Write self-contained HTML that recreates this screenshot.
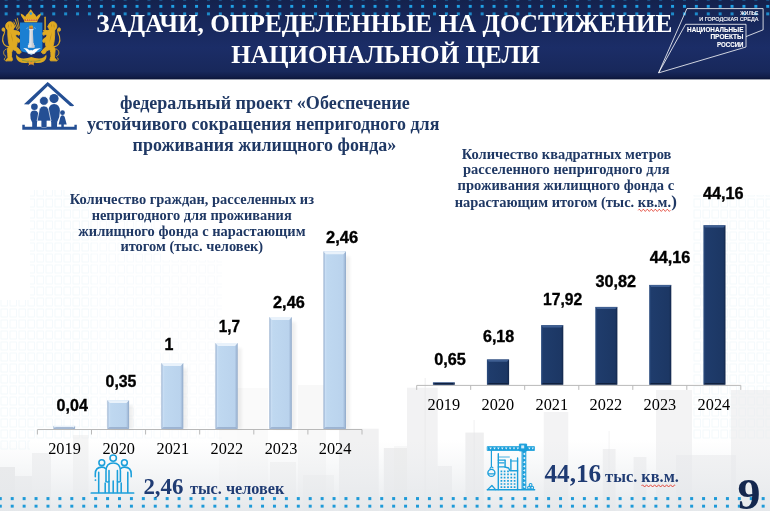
<!DOCTYPE html>
<html lang="ru">
<head>
<meta charset="utf-8">
<title>Задачи, определенные на достижение национальной цели</title>
<style>
html,body{margin:0;padding:0;background:#fff;}
body{width:770px;height:511px;overflow:hidden;position:relative;}
svg{position:absolute;left:0;top:0;display:block;}
.ser{font-family:"Liberation Serif",serif;}
.san{font-family:"Liberation Sans",sans-serif;}
.b{font-weight:bold;}
</style>
</head>
<body>
<svg width="770" height="511" viewBox="0 0 770 511">
<defs>
  <linearGradient id="hdr" x1="0" y1="0" x2="0" y2="1">
    <stop offset="0" stop-color="#14224d"/>
    <stop offset="0.25" stop-color="#17275a"/>
    <stop offset="0.6" stop-color="#1b2d67"/>
    <stop offset="0.9" stop-color="#18285b"/>
    <stop offset="0.965" stop-color="#121e4a"/>
    <stop offset="1" stop-color="#0b1436"/>
  </linearGradient>
  <pattern id="dots" x="4.65" y="-2.6" width="11.9" height="7.5" patternUnits="userSpaceOnUse">
    <rect x="0" y="0" width="3" height="3" fill="#1fa0e4"/>
  </pattern>
  <pattern id="dotsb" x="-1.2" y="497.1" width="11.92" height="7.6" patternUnits="userSpaceOnUse">
    <rect x="0" y="0" width="3" height="3" fill="#1e9ad8"/>
  </pattern>
  <linearGradient id="lb" x1="0" y1="0" x2="1" y2="0">
    <stop offset="0" stop-color="#9cb3d0"/>
    <stop offset="0.045" stop-color="#a9c1de"/>
    <stop offset="0.07" stop-color="#cbdff4"/>
    <stop offset="0.16" stop-color="#bfd8f0"/>
    <stop offset="0.86" stop-color="#bad3ed"/>
    <stop offset="0.93" stop-color="#a7bfdc"/>
    <stop offset="1" stop-color="#8fa8c8"/>
  </linearGradient>
  <linearGradient id="db" x1="0" y1="0" x2="1" y2="0">
    <stop offset="0" stop-color="#2c4d80"/>
    <stop offset="0.1" stop-color="#1f3c6c"/>
    <stop offset="0.9" stop-color="#1c3764"/>
    <stop offset="1" stop-color="#12264a"/>
  </linearGradient>
  <filter id="sh" x="-30%" y="-10%" width="180%" height="130%">
    <feGaussianBlur stdDeviation="1.6"/>
  </filter>
</defs>

<!-- ============ BACKGROUND (faint city) ============ -->
<defs>
  <linearGradient id="bgfade" x1="0" y1="0" x2="0" y2="1">
    <stop offset="0" stop-color="#e9ecef" stop-opacity="0"/>
    <stop offset="1" stop-color="#e4e7ea" stop-opacity="0.9"/>
  </linearGradient>
  <pattern id="win" width="9" height="11" patternUnits="userSpaceOnUse">
    <rect x="1" y="1" width="6.5" height="8" fill="none" stroke="#dcebf5" stroke-width="0.8"/>
  </pattern>
</defs>
<g id="bg">
  <!-- light blue outlined towers -->
  <rect x="30" y="190" width="62" height="250" fill="url(#win)" opacity="0.4"/>
  <rect x="92" y="215" width="70" height="225" fill="url(#win)" opacity="0.3"/>
  <rect x="162" y="260" width="60" height="180" fill="url(#win)" opacity="0.22"/>
  <rect x="0" y="300" width="30" height="150" fill="url(#win)" opacity="0.4"/>
  <rect x="692" y="195" width="78" height="245" fill="url(#win)" opacity="0.4"/>
  <!-- gray silhouettes -->
  <g fill="#e8e8e9">
    <rect x="0" y="467" width="15.0" height="44.0" opacity="0.9"/>
    <rect x="15" y="476" width="17.0" height="35.0" opacity="0.7"/>
    <rect x="32" y="453" width="19.0" height="58.0" opacity="0.55"/>
    <rect x="73" y="435" width="15.5" height="76.0" opacity="0.45"/>
    <rect x="219" y="380" width="18.0" height="131.0" opacity="0.18"/>
    <rect x="237" y="388" width="31.0" height="123.0" opacity="0.22"/>
    <rect x="298" y="385" width="28" height="126" opacity="0.3"/>
    <rect x="270" y="462" width="26.0" height="49.0" opacity="0.45"/>
    <rect x="303" y="475" width="31.0" height="36.0" opacity="0.4"/>
    <rect x="339" y="428.7" width="39.7" height="82.3" opacity="0.6"/>
    <rect x="383.8" y="448" width="23.2" height="63.0" opacity="0.7"/>
    <rect x="394" y="446" width="13.0" height="65.0" opacity="0.3"/>
    <rect x="407" y="387.7" width="30.7" height="123.3" opacity="0.55"/>
    <rect x="424.5" y="378" width="1.5" height="133.0" opacity="0.5"/>
    <rect x="437.7" y="466" width="14.3" height="45.0" opacity="0.6"/>
    <rect x="465.4" y="432.6" width="18.4" height="78.4" opacity="0.7"/>
    <rect x="473.5" y="420" width="1.2" height="91.0" opacity="0.5"/>
    <rect x="543.8" y="412" width="24.4" height="99.0" opacity="0.5"/>
    <rect x="602.8" y="449" width="12.8" height="62.0" opacity="0.6"/>
    <rect x="608.6" y="431" width="1.0" height="80.0" opacity="0.5"/>
    <rect x="633.6" y="457" width="12.8" height="54.0" opacity="0.6"/>
    <rect x="656" y="390" width="36.0" height="121.0" opacity="0.5"/>
    <rect x="731" y="390" width="39.0" height="121.0" opacity="0.5"/>
    <rect x="676" y="455" width="60.0" height="56.0" opacity="0.5"/>
  </g>
  <rect x="0" y="440" width="770" height="71" fill="url(#bgfade)"/>
</g>

<!-- ============ HEADER ============ -->
<rect x="0" y="0" width="770" height="79.4" fill="url(#hdr)"/>
<rect x="0" y="-3" width="770" height="11" fill="url(#dots)"/>
<rect x="0" y="11" width="770" height="5" fill="url(#dots)" opacity="0.82"/>
<text class="ser b" x="96.2" y="31.6" font-size="25.4" fill="#fff" textLength="576.2" lengthAdjust="spacingAndGlyphs">ЗАДАЧИ, ОПРЕДЕЛЕННЫЕ НА ДОСТИЖЕНИЕ</text>
<text class="ser b" x="231.3" y="62.7" font-size="25.4" fill="#fff" textLength="308.4" lengthAdjust="spacingAndGlyphs">НАЦИОНАЛЬНОЙ ЦЕЛИ</text>

<!-- ============ COAT OF ARMS ============ -->
<g id="emblem">
  <g stroke="#d9a521" fill="none" stroke-linecap="round">
    <path d="M18.6 29 L15.2 19.5 M19.4 28 L17.4 18.2 M17.6 30 L13.8 22" stroke-width="0.9"/>
    <path d="M45.1 17.2 V31" stroke-width="1.5"/>
    <path d="M43.3 30.6 H46.9" stroke-width="1"/>
  </g>
  <g transform="translate(0 5) scale(0.12525)">
    <g fill="#e0aa22" stroke="#e0aa22" stroke-width="7" stroke-linejoin="round">
    <ellipse cx="78" cy="168" rx="33" ry="35"/>
    <path d="M96 150 L118 168 L112 186 L96 192 Z"/>
    <path d="M62 190 L108 196 Q128 240 138 300 Q136 335 118 350 L82 345 Q60 300 62 190 Z"/>
    <path d="M98 204 Q128 200 152 214 L164 230 L150 242 L138 236 Q120 238 104 236 Z"/>
    <path d="M112 252 Q138 258 152 272 L163 290 L148 300 L138 292 Q124 288 110 282 Z"/>
    <path d="M104 322 Q136 334 152 352 L170 376 L156 390 L138 386 L128 366 Q110 360 94 350 Z"/>
    <path d="M72 332 L104 348 Q88 380 92 410 L100 436 L96 446 L48 446 L52 432 L64 424 Q62 390 58 350 Z"/>
    <path d="M70 332 C 36 334 12 296 24 252 C 30 228 46 218 36 196" fill="none" stroke="#e0aa22" stroke-width="9" stroke-linecap="round"/>
    <ellipse cx="27" cy="196" rx="11" ry="14"/>
    <path d="M48 352 C 22 362 22 398 46 410 M42 420 C 28 430 34 446 50 446" fill="none" stroke="#e0aa22" stroke-width="7" stroke-linecap="round"/>
</g>
    <g fill="#9a6f14" opacity="0.55">
    <path d="M84 215 Q100 250 104 300 Q92 270 84 215 Z M70 150 Q60 165 66 185 Q74 170 70 150 Z M86 145 Q96 160 92 180 Q84 165 86 145 Z" />
</g>
    <g transform="translate(499 0) scale(-1 1)">
      <g fill="#e0aa22" stroke="#e0aa22" stroke-width="7" stroke-linejoin="round">
    <ellipse cx="78" cy="168" rx="33" ry="35"/>
    <path d="M96 150 L118 168 L112 186 L96 192 Z"/>
    <path d="M62 190 L108 196 Q128 240 138 300 Q136 335 118 350 L82 345 Q60 300 62 190 Z"/>
    <path d="M98 204 Q128 200 152 214 L164 230 L150 242 L138 236 Q120 238 104 236 Z"/>
    <path d="M112 252 Q138 258 152 272 L163 290 L148 300 L138 292 Q124 288 110 282 Z"/>
    <path d="M104 322 Q136 334 152 352 L170 376 L156 390 L138 386 L128 366 Q110 360 94 350 Z"/>
    <path d="M72 332 L104 348 Q88 380 92 410 L100 436 L96 446 L48 446 L52 432 L64 424 Q62 390 58 350 Z"/>
    <path d="M70 332 C 36 334 12 296 24 252 C 30 228 46 218 36 196" fill="none" stroke="#e0aa22" stroke-width="9" stroke-linecap="round"/>
    <ellipse cx="27" cy="196" rx="11" ry="14"/>
    <path d="M48 352 C 22 362 22 398 46 410 M42 420 C 28 430 34 446 50 446" fill="none" stroke="#e0aa22" stroke-width="7" stroke-linecap="round"/>
</g>
      <g fill="#9a6f14" opacity="0.55">
    <path d="M84 215 Q100 250 104 300 Q92 270 84 215 Z M70 150 Q60 165 66 185 Q74 170 70 150 Z M86 145 Q96 160 92 180 Q84 165 86 145 Z" />
</g>
    </g>
  </g>
  <!-- wreath / ribbon -->
  <path d="M16.4 54.6 Q18.6 58.6 23.6 58.6 Q28 58.4 31.3 57 Q34.6 58.4 39 58.6 Q44 58.6 46.2 54.6 Q47.4 58.8 43.8 61.4 Q39.4 63.8 34.4 62.4 L33.2 64.6 H29.4 L28.2 62.4 Q23.2 63.8 18.8 61.4 Q15.2 58.8 16.4 54.6 Z" fill="#dba822"/>
  <path d="M22 60.2 Q31.3 62.6 40.6 60.2" stroke="#8e9c3c" stroke-width="1.1" fill="none"/>
  <path d="M28.6 60.6 L33.8 65 M34 60.6 L28.8 65" stroke="#e58a2c" stroke-width="1" fill="none" stroke-linecap="round"/>
  <!-- shield -->
  <path d="M20 22.4 H42.4 V47.8 Q42.4 51.4 38.6 52 Q33 52.6 31.2 55.2 Q29.4 52.6 23.8 52 Q20 51.4 20 47.8 Z" fill="#1b7fd2"/>
  <!-- column -->
  <path d="M28.7 28.8 H33.7 L33.3 30.2 H32.9 L33.3 43.2 H33.9 V45 H34.5 V47.7 H27.9 V45 H28.5 V43.2 H29.1 L29.5 30.2 H29.1 Z" fill="#dfe2e7"/>
  <path d="M31.6 30.2 L31.6 47.7 H34.5 V45 H33.9 V43.2 H33.3 L32.9 30.2 Z" fill="#b9bec8" opacity="0.6"/>
  <path d="M29.3 28.8 Q29 26.4 29.6 25.2 L30.4 26.4 L31.1 24.2 L31.8 26.4 L32.6 25.2 Q33.2 26.4 32.9 28.8 Z" fill="#e0aa22"/>
  <path d="M29.6 27.6 H32.6 V28.6 H29.6 Z" fill="#c9442a"/>
  <path d="M26.4 28.6 L28.4 27.4 M35.8 28.6 L33.8 27.4" stroke="#b8d8f2" stroke-width="0.5" fill="none"/>
  <!-- gull -->
  <path d="M23.2 48 Q27.4 48 29.8 50.4 Q31 49.4 32.4 50.4 Q35 48 40.8 48.2 Q37.6 49.6 36 52 Q34.2 54 31.4 53.8 Q28.4 54 27 52 Q25.8 49.6 23.2 48 Z" fill="#fff"/>
  <path d="M27.6 53 Q31.3 55.4 35 53" stroke="#fff" stroke-width="0.8" fill="none"/>
  <!-- crown -->
  <path d="M24.2 21.8 Q23.8 19.2 22.2 17.4 Q20.8 15.8 20.6 13.6 Q23.4 14.6 25.2 16.8 Q26 14.4 28 13.2 Q29.2 11.4 30.8 9.2 Q32.4 11.4 33.6 13.2 Q35.6 14.4 36.4 16.8 Q38.2 14.6 41 13.6 Q40.8 15.8 39.4 17.4 Q37.8 19.2 37.4 21.8 Z" fill="#e2ac24"/>
  <path d="M24.3 19.4 H37.3 L37.1 20.8 H24.5 Z" fill="#d2562a"/>
  <path d="M24.6 20.9 H37 L36.9 22.2 H24.7 Z" fill="#e9bb3a"/>
  <circle cx="30.8" cy="13.6" r="1.3" fill="#2d9be0"/>
  <path d="M26 19.9 h0.9 M28.3 19.9 h0.9 M30.4 19.9 h0.9 M32.5 19.9 h0.9 M34.7 19.9 h0.9" stroke="#fff" stroke-width="0.7" opacity="0.8"/>
</g>

<!-- ============ NATIONAL PROJECTS LOGO ============ -->
<g id="logo">
  <g fill="none" stroke="#fff" stroke-width="0.8" stroke-linejoin="miter">
    <path d="M658.6 72.9 L686.9 8.6 H763.1 V29.8 L746 36.6"/>
    <path d="M658.6 72.9 L685.6 24.3 H746 V47 Z"/>
  </g>
  <g class="san" fill="#fff" font-size="4.7" stroke="#fff" stroke-width="0.12">
    <text x="740.2" y="14.9" textLength="18.2" lengthAdjust="spacingAndGlyphs">ЖИЛЬЕ</text>
    <text x="699.3" y="20.8" textLength="59.1" lengthAdjust="spacingAndGlyphs">И ГОРОДСКАЯ СРЕДА</text>
  </g>
  <g class="san b" fill="#fff" font-size="8.1" stroke="#fff" stroke-width="0.15">
    <text x="687.1" y="32.1" textLength="56.4" lengthAdjust="spacingAndGlyphs">НАЦИОНАЛЬНЫЕ</text>
    <text x="710.4" y="39.3" textLength="33.1" lengthAdjust="spacingAndGlyphs">ПРОЕКТЫ</text>
    <text x="717" y="46.5" textLength="26.5" lengthAdjust="spacingAndGlyphs">РОССИИ</text>
  </g>
</g>

<!-- ============ SUBTITLE ============ -->
<g class="ser b" font-size="18" fill="#1f3864">
<text x="119.9" y="108.7" textLength="290" lengthAdjust="spacingAndGlyphs">федеральный проект «Обеспечение</text>
<text x="87" y="129.9" textLength="352.4" lengthAdjust="spacingAndGlyphs">устойчивого сокращения непригодного для</text>
<text x="132.6" y="151.1" textLength="263.6" lengthAdjust="spacingAndGlyphs">проживания жилищного фонда»</text>
</g>

<!-- ============ HOUSE ICON ============ -->
<g id="house" fill="#244f94">
  <!-- roof -->
  <path d="M47.6 82 L49.3 83.2 L74.2 105.6 L72.6 106.3 L70 106 L47.8 86 L28.8 104.4 L23.9 104.2 Z"/>
  <!-- base -->
  <path d="M22.3 124.8 H24.8 V126.8 H74.4 V124.8 H76.8 V129.8 H22.3 Z"/>
  <!-- boy -->
  <circle cx="34.4" cy="106.7" r="3.3"/>
  <path d="M30.3 114.5 Q30.6 110.6 34.3 110.6 Q38 110.6 38.3 114.5 Q38.4 119 37 122.6 L36.9 127 H32.2 L32.2 122.6 Q30 119 30.3 114.5 Z"/>
  <!-- man -->
  <circle cx="54" cy="98.6" r="4.6"/>
  <path d="M54.1 103.9 Q59.6 104 59.9 110.5 Q60 117 57.2 122 L57 127 H51.3 L51.2 122 Q48.4 117 48.6 110.5 Q48.8 104 54.1 103.9 Z"/>
  <!-- woman -->
  <circle cx="43.9" cy="100.9" r="4.4" stroke="#fff" stroke-width="0.7"/>
  <path d="M43.9 105.9 Q47.8 105.9 48.6 109.5 L51 121 H46.6 V127 H41.4 V121 H37.1 L39.3 109.5 Q40.1 105.9 43.9 105.9 Z" stroke="#fff" stroke-width="0.7"/>
  <rect x="41.5" y="120.6" width="5" height="6.4"/>
  <!-- girl -->
  <circle cx="62.5" cy="112.7" r="2.4"/>
  <path d="M62.5 115.2 Q64.3 115.2 64.8 117.2 L66.7 124.6 H63.8 V127 H61.3 V124.6 H58.6 L60.3 117.2 Q60.8 115.2 62.5 115.2 Z"/>
</g>

<!-- ============ CHARTS ============ -->
<g id="chartL">
<g class="ser b" font-size="14.4" fill="#1f3864">
<text x="69.8" y="204.3" textLength="244.2" lengthAdjust="spacingAndGlyphs">Количество граждан, расселенных из</text>
<text x="91.7" y="219.9" textLength="200.0" lengthAdjust="spacingAndGlyphs">непригодного для проживания</text>
<text x="78.3" y="235.7" textLength="227.2" lengthAdjust="spacingAndGlyphs">жилищного фонда с нарастающим</text>
<text x="120.4" y="251.4" textLength="142.8" lengthAdjust="spacingAndGlyphs">итогом (тыс. человек)</text>
</g>
<path d="M37.4 429.5H362.0" stroke="#b9b9b9" stroke-width="1" fill="none"/>
<path d="M37.4 429.5v5M91.5 429.5v5M145.6 429.5v5M199.7 429.5v5M253.8 429.5v5M307.9 429.5v5M362.0 429.5v5" stroke="#b9b9b9" stroke-width="1" fill="none"/>
<rect x="57.4" y="430.9" width="21.7" height="-2.1" fill="#000" opacity="0.06" filter="url(#sh)"/>
<rect x="53.4" y="425.9" width="21.7" height="2.9" fill="url(#lb)"/>
<polygon points="53.4,425.9 75.1,425.9 72.5,428.7 56.0,428.7" fill="#e9f2fb"/>
<polygon points="53.4,428.8 75.1,428.8 72.9,427.2 55.6,427.2" fill="#92a9c8"/>
<rect x="111.3" y="405.3" width="21.8" height="23.5" fill="#000" opacity="0.06" filter="url(#sh)"/>
<rect x="107.3" y="400.3" width="21.8" height="28.5" fill="url(#lb)"/>
<polygon points="107.3,400.3 129.1,400.3 126.5,403.1 109.9,403.1" fill="#e9f2fb"/>
<polygon points="107.3,428.8 129.1,428.8 126.9,427.2 109.5,427.2" fill="#92a9c8"/>
<rect x="165.3" y="368.1" width="22.0" height="60.7" fill="#000" opacity="0.06" filter="url(#sh)"/>
<rect x="161.3" y="363.1" width="22.0" height="65.7" fill="url(#lb)"/>
<polygon points="161.3,363.1 183.3,363.1 180.7,365.9 163.9,365.9" fill="#e9f2fb"/>
<polygon points="161.3,428.8 183.3,428.8 181.1,427.2 163.5,427.2" fill="#92a9c8"/>
<rect x="219.4" y="348.1" width="22.3" height="80.7" fill="#000" opacity="0.06" filter="url(#sh)"/>
<rect x="215.4" y="343.1" width="22.3" height="85.7" fill="url(#lb)"/>
<polygon points="215.4,343.1 237.7,343.1 235.1,345.9 218.0,345.9" fill="#e9f2fb"/>
<polygon points="215.4,428.8 237.7,428.8 235.5,427.2 217.6,427.2" fill="#92a9c8"/>
<rect x="273.3" y="322.1" width="22.5" height="106.7" fill="#000" opacity="0.06" filter="url(#sh)"/>
<rect x="269.3" y="317.1" width="22.5" height="111.7" fill="url(#lb)"/>
<polygon points="269.3,317.1 291.8,317.1 289.2,319.9 271.9,319.9" fill="#e9f2fb"/>
<polygon points="269.3,428.8 291.8,428.8 289.6,427.2 271.5,427.2" fill="#92a9c8"/>
<rect x="327.4" y="256.4" width="22.6" height="172.4" fill="#000" opacity="0.06" filter="url(#sh)"/>
<rect x="323.4" y="251.4" width="22.6" height="177.4" fill="url(#lb)"/>
<polygon points="323.4,251.4 346.0,251.4 343.4,254.2 326.0,254.2" fill="#e9f2fb"/>
<polygon points="323.4,428.8 346.0,428.8 343.8,427.2 325.6,427.2" fill="#92a9c8"/>
<g class="san b" font-size="16" fill="#000" stroke="#000" stroke-width="0.35">
<text x="56.6" y="410.7" textLength="31.2" lengthAdjust="spacingAndGlyphs">0,04</text>
<text x="105.6" y="387.1" textLength="30.8" lengthAdjust="spacingAndGlyphs">0,35</text>
<text x="168.9" y="349.8" text-anchor="middle">1</text>
<text x="218.8" y="331.7" textLength="21.2" lengthAdjust="spacingAndGlyphs">1,7</text>
<text x="273.1" y="307.9" textLength="31.6" lengthAdjust="spacingAndGlyphs">2,46</text>
<text x="326.1" y="243.0" textLength="32.0" lengthAdjust="spacingAndGlyphs">2,46</text>
</g>
<g class="ser" font-size="17.4" fill="#000">
<text x="48.2" y="454.0" text-anchor="start" textLength="32.6" lengthAdjust="spacingAndGlyphs">2019</text>
<text x="102.4" y="454.0" text-anchor="start" textLength="32.6" lengthAdjust="spacingAndGlyphs">2020</text>
<text x="156.5" y="454.0" text-anchor="start" textLength="32.6" lengthAdjust="spacingAndGlyphs">2021</text>
<text x="210.6" y="454.0" text-anchor="start" textLength="32.6" lengthAdjust="spacingAndGlyphs">2022</text>
<text x="264.7" y="454.0" text-anchor="start" textLength="32.6" lengthAdjust="spacingAndGlyphs">2023</text>
<text x="318.8" y="454.0" text-anchor="start" textLength="32.6" lengthAdjust="spacingAndGlyphs">2024</text>
</g>
</g>
<g id="chartR">
<g class="ser b" font-size="14.4" fill="#1f3864">
<text x="461.7" y="159.3" textLength="209.7" lengthAdjust="spacingAndGlyphs">Количество квадратных метров</text>
<text x="463.0" y="174.0" textLength="206.5" lengthAdjust="spacingAndGlyphs">расселенного непригодного для</text>
<text x="457.5" y="190.2" textLength="216.7" lengthAdjust="spacingAndGlyphs">проживания жилищного фонда с</text>
<text x="454.7" y="206.9" textLength="216.4" lengthAdjust="spacingAndGlyphs">нарастающим итогом (тыс. кв.м.</text>
<text x="671.3" y="207.3" font-size="17">)</text>
</g>
<path d="M638.3 210.3 q1 -2.2 2 0 t2 0 q1 -2.2 2 0 t2 0 q1 -2.2 2 0 t2 0 q1 -2.2 2 0 t2 0 q1 -2.2 2 0 t2 0 q1 -2.2 2 0 t2 0 q1 -2.2 2 0 t2 0 q1 -2.2 2 0 t2 0" stroke="#e0392b" stroke-width="0.9" fill="none"/>
<path d="M416.7 385.4H740.8" stroke="#b9b9b9" stroke-width="1" fill="none"/>
<path d="M416.7 385.4v4.5M470.7 385.4v4.5M524.7 385.4v4.5M578.8 385.4v4.5M632.8 385.4v4.5M686.8 385.4v4.5M740.8 385.4v4.5" stroke="#b9b9b9" stroke-width="1" fill="none"/>
<rect x="432.9" y="382.5" width="21.9" height="2.1" fill="url(#db)"/>
<polygon points="432.9,382.5 454.8,382.5 452.8,384.7 434.9,384.7" fill="#3f5f92"/>
<polygon points="432.9,384.6 454.8,384.6 452.8,383.1 434.9,383.1" fill="#10213f"/>
<rect x="486.9" y="359.5" width="22.2" height="25.1" fill="url(#db)"/>
<polygon points="486.9,359.5 509.1,359.5 507.1,361.7 488.9,361.7" fill="#3f5f92"/>
<polygon points="486.9,384.6 509.1,384.6 507.1,383.1 488.9,383.1" fill="#10213f"/>
<rect x="541.1" y="325.2" width="22.2" height="59.4" fill="url(#db)"/>
<polygon points="541.1,325.2 563.3,325.2 561.3,327.4 543.1,327.4" fill="#3f5f92"/>
<polygon points="541.1,384.6 563.3,384.6 561.3,383.1 543.1,383.1" fill="#10213f"/>
<rect x="595.3" y="306.9" width="22.1" height="77.7" fill="url(#db)"/>
<polygon points="595.3,306.9 617.4,306.9 615.4,309.1 597.3,309.1" fill="#3f5f92"/>
<polygon points="595.3,384.6 617.4,384.6 615.4,383.1 597.3,383.1" fill="#10213f"/>
<rect x="649.2" y="284.9" width="22.1" height="99.7" fill="url(#db)"/>
<polygon points="649.2,284.9 671.3,284.9 669.3,287.1 651.2,287.1" fill="#3f5f92"/>
<polygon points="649.2,384.6 671.3,384.6 669.3,383.1 651.2,383.1" fill="#10213f"/>
<rect x="703.4" y="225.3" width="22.1" height="159.3" fill="url(#db)"/>
<polygon points="703.4,225.3 725.5,225.3 723.5,227.5 705.4,227.5" fill="#3f5f92"/>
<polygon points="703.4,384.6 725.5,384.6 723.5,383.1 705.4,383.1" fill="#10213f"/>
<g class="san b" font-size="16" fill="#000" stroke="#000" stroke-width="0.35">
<text x="434.2" y="365.1" textLength="31.6" lengthAdjust="spacingAndGlyphs">0,65</text>
<text x="483.0" y="341.5" textLength="31.2" lengthAdjust="spacingAndGlyphs">6,18</text>
<text x="543.0" y="304.8" textLength="39.2" lengthAdjust="spacingAndGlyphs">17,92</text>
<text x="595.4" y="286.6" textLength="40.6" lengthAdjust="spacingAndGlyphs">30,82</text>
<text x="649.7" y="262.6" textLength="40.6" lengthAdjust="spacingAndGlyphs">44,16</text>
<text x="703.0" y="198.6" textLength="40.6" lengthAdjust="spacingAndGlyphs">44,16</text>
</g>
<g class="ser" font-size="17.4" fill="#000">
<text x="427.5" y="409.5" textLength="32.6" lengthAdjust="spacingAndGlyphs">2019</text>
<text x="481.5" y="409.5" textLength="32.6" lengthAdjust="spacingAndGlyphs">2020</text>
<text x="535.5" y="409.5" textLength="32.6" lengthAdjust="spacingAndGlyphs">2021</text>
<text x="589.6" y="409.5" textLength="32.6" lengthAdjust="spacingAndGlyphs">2022</text>
<text x="643.6" y="409.5" textLength="32.6" lengthAdjust="spacingAndGlyphs">2023</text>
<text x="697.6" y="409.5" textLength="32.6" lengthAdjust="spacingAndGlyphs">2024</text>
</g>
</g>

<!-- ============ BOTTOM ============ -->
<rect x="0" y="497" width="770" height="11" fill="url(#dotsb)"/>
<g class="ser b" fill="#1f3b73">
<text x="143.4" y="493.7" font-size="23" textLength="40" lengthAdjust="spacingAndGlyphs">2,46</text>
<text x="190" y="493.7" font-size="16" textLength="94.3" lengthAdjust="spacingAndGlyphs">тыс. человек</text>
<text x="544.5" y="482.3" font-size="24.5" textLength="56.7" lengthAdjust="spacingAndGlyphs">44,16</text>
<text x="605.1" y="482.3" font-size="16" textLength="73.8" lengthAdjust="spacingAndGlyphs">тыс. кв.м.</text>
</g>
<text class="ser b" x="737.4" y="508.9" font-size="44" fill="#14274e" textLength="23" lengthAdjust="spacingAndGlyphs">9</text>
<path d="M641.6 485.9 q1 -2.2 2 0 t2 0 q1 -2.2 2 0 t2 0 q1 -2.2 2 0 t2 0 q1 -2.2 2 0 t2 0 q1 -2.2 2 0 t2 0 q1 -2.2 2 0 t2 0 q1 -2.2 2 0 t2 0 q1 -2.2 2 0 t2 0 q0.8 -1.6 1.6 -0.6" stroke="#e0392b" stroke-width="0.9" fill="none"/>
<!-- people icon -->
<g id="people" fill="none" stroke="#1b9fdb" stroke-width="1.55" stroke-linecap="round" stroke-linejoin="round">
  <path d="M91.3 493 H133.6" stroke-width="1.7"/>
  <circle cx="113.2" cy="458.1" r="3.2"/>
  <circle cx="101.8" cy="462.7" r="2.9"/>
  <circle cx="124.4" cy="462.7" r="2.9"/>
  <path d="M106 481.3 V471 Q106 463 113.2 463 Q120.4 463 120.4 471 V481.3"/>
  <path d="M106 481.3 Q107.5 482.8 109 481.3 M117.4 481.3 Q118.9 482.8 120.4 481.3" stroke-width="1.3"/>
  <path d="M109 470.4 V492.5 M117.4 470.4 V492.5 M113.2 481 V492.5"/>
  <path d="M95.3 476.8 V474 Q95.3 467.1 101.8 467.1 Q104.4 467.1 105.8 468.8"/>
  <path d="M98.7 472.2 V492.5 M105.2 483 V492.5"/>
  <circle cx="95.3" cy="480.1" r="0.5" fill="#1b9fdb" stroke-width="0.7"/>
  <path d="M131.2 476.8 V474 Q131.2 467.1 124.6 467.1 Q122 467.1 120.6 468.8"/>
  <path d="M127.8 472.2 V492.5 M121.2 483 V492.5"/>
</g>
<!-- crane icon -->
<g id="crane" fill="none" stroke="#1b9fdb" stroke-width="1.4" stroke-linecap="round" stroke-linejoin="round">
<path d="M487.3 489.8 H534.6" stroke-width="1.5"/>
<rect x="487.6" y="446.6" width="46.8" height="3.9" fill="#1b9fdb" stroke-width="0.8"/>
<path d="M489.3 447.6h2.6l-1.3 2zM493.2 447.6h2.6l-1.3 2zM497.1 447.6h2.6l-1.3 2zM501.0 447.6h2.6l-1.3 2zM504.9 447.6h2.6l-1.3 2zM508.8 447.6h2.6l-1.3 2zM512.7 447.6h2.6l-1.3 2zM516.6 447.6h2.6l-1.3 2zM528.2 447.6h2.3l-1.15 2zM531.6 447.6h2.3l-1.15 2z" fill="#e9f5fc" stroke="none"/>
<rect x="519.8" y="444.1" width="6.8" height="6.8" fill="#1b9fdb" stroke-width="1"/>
<rect x="521.2" y="445.4" width="3" height="3" fill="#d3ebf8" stroke="none"/>
<rect x="522.3" y="451" width="3.6" height="38.5" fill="#1b9fdb" stroke-width="0.8"/>
<path d="M525.2 452.6v2.8l-2.3 -1.4zM525.2 456.7v2.8l-2.3 -1.4zM525.2 460.8v2.8l-2.3 -1.4zM525.2 464.9v2.8l-2.3 -1.4zM525.2 469.0v2.8l-2.3 -1.4zM525.2 473.1v2.8l-2.3 -1.4zM525.2 477.2v2.8l-2.3 -1.4zM525.2 481.3v2.8l-2.3 -1.4zM525.2 485.4v2.8l-2.3 -1.4z" fill="#e9f5fc" stroke="none"/>
<path d="M491.4 450.6 V466.5" stroke-width="1.2"/>
<path d="M490 468.6 Q491.4 465.8 493 467.8" stroke-width="1.1"/>
<circle cx="491.4" cy="472.9" r="3.5"/>
<path d="M488.4 473.9 H494.4" stroke-width="1.1"/>
<path d="M498.3 453.8 V489.5 M517.6 458 V489.5"/>
<path d="M498.3 457 H509.4" stroke-width="0.8"/>
<path d="M498.3 460.2 H505 M510.9 461 H517.6 M498.3 462.8 H504" stroke-width="1.2"/>
<path d="M505.1 460.2 V467 M510.9 459.5 V469.6"/>
<path d="M498.3 466.9 H504.2 L508.6 468 L509.9 470.7 H517.6"/>
<path d="M500.55 470.45h1.7v1.7h-1.7zM503.75 470.45h1.7v1.7h-1.7zM507.15 470.45h1.7v1.7h-1.7zM500.55 473.55h1.7v1.7h-1.7zM503.75 473.55h1.7v1.7h-1.7zM507.15 473.55h1.7v1.7h-1.7zM510.45 473.55h1.7v1.7h-1.7zM513.75 473.55h1.7v1.7h-1.7zM500.55 476.75h1.7v1.7h-1.7zM503.75 476.75h1.7v1.7h-1.7zM507.15 476.75h1.7v1.7h-1.7zM510.45 476.75h1.7v1.7h-1.7zM513.75 476.75h1.7v1.7h-1.7zM500.55 479.95h1.7v1.7h-1.7zM503.75 479.95h1.7v1.7h-1.7zM507.15 479.95h1.7v1.7h-1.7zM510.45 479.95h1.7v1.7h-1.7zM513.75 479.95h1.7v1.7h-1.7zM500.55 483.15h1.7v1.7h-1.7zM503.75 483.15h1.7v1.7h-1.7zM507.15 483.15h1.7v1.7h-1.7zM510.45 483.15h1.7v1.7h-1.7zM513.75 483.15h1.7v1.7h-1.7zM500.55 486.25h1.7v1.7h-1.7zM503.75 486.25h1.7v1.7h-1.7zM507.15 486.25h1.7v1.7h-1.7zM510.45 486.25h1.7v1.7h-1.7zM513.75 486.25h1.7v1.7h-1.7z" fill="#1b9fdb" stroke="none"/>
<path d="M487.6 489.6 L491.9 485.5 L495.6 489.6" stroke-width="1.3"/>
<circle cx="529" cy="487.7" r="1.4" stroke-width="1.1"/><circle cx="532.2" cy="487.7" r="1.4" stroke-width="1.1"/><circle cx="530.6" cy="484.9" r="1.4" stroke-width="1.1"/>
</g>

</svg>
</body>
</html>
